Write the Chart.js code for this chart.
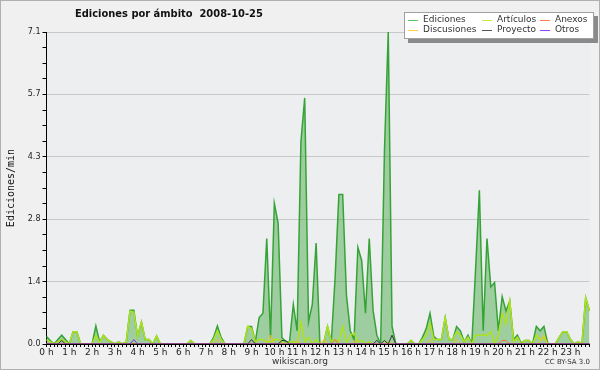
<!DOCTYPE html>
<html>
<head>
<meta charset="utf-8">
<script src="https://cdn.jsdelivr.net/npm/chart.js@4.4.1/dist/chart.umd.min.js"></script>
<style>
  html, body { margin: 0; padding: 0; background: #fff; }
</style>
</head>
<body>
<canvas id="edits-chart" width="600" height="370"></canvas>
<script>
// one value every 10 minutes, 00:00 -> 23:50
let hourLabels = ['0 h','1 h','2 h','3 h','4 h','5 h','6 h','7 h','8 h','9 h','10 h','11 h',
                  '12 h','13 h','14 h','15 h','16 h','17 h','18 h','19 h','20 h','21 h','22 h','23 h'];
let minuteSteps = ['00','10','20','30','40','50'];
let yTickValues = [0, 1.42, 2.84, 4.26, 5.68, 7.1];

let ediciones = [
    0.17,0.08,0,0.1,0.2,0.1,0,0.28,0.28,0,0,0,
    0,0.41,0.05,0.2,0.1,0.05,0,0.05,0,0.05,0.77,0.77,
    0.17,0.5,0.1,0.1,0,0.18,0,0,0,0,0,0,
    0,0,0.08,0,0,0,0,0,0.15,0.41,0.15,0,
    0,0,0,0,0,0.4,0.4,0.05,0.6,0.7,2.4,0.15,
    3.2,2.75,0.15,0.05,0.05,0.9,0.3,4.6,5.6,0.5,0.9,2.3,
    0,0.02,0.4,0.05,1.5,3.4,3.4,1.1,0.3,0.1,2.2,1.9,
    0.7,2.4,0.77,0.2,0,4.4,7.1,0.4,0,0,0,0,
    0.08,0,0,0.15,0.35,0.7,0.17,0.1,0.1,0.6,0.1,0.1,
    0.4,0.3,0.05,0.2,0,1.7,3.5,0.3,2.4,1.3,1.4,0.3,
    1.08,0.75,0.98,0.1,0.2,0.02,0.08,0.08,0,0.4,0.3,0.4,
    0.02,0,0,0.15,0.28,0.28,0.1,0,0.05,0,1.05,0.75
];
let articulos = [
    0.1,0.05,0,0.05,0.1,0.05,0,0.28,0.28,0,0,0,
    0,0.2,0.03,0.2,0.1,0.05,0,0.05,0,0.05,0.75,0.72,
    0.17,0.5,0.1,0.1,0,0.18,0,0,0,0,0,0,
    0,0,0.08,0,0,0,0,0,0.1,0.3,0.1,0,
    0,0,0,0,0,0.4,0.35,0.05,0.1,0.1,0.05,0.05,
    0.1,0.1,0.05,0,0.05,0.05,0,0.5,0.05,0.15,0,0.1,
    0,0,0.4,0.05,0.1,0.05,0.4,0.03,0.2,0.25,0.05,0.08,
    0,0.05,0,0,0,0,0.05,0,0,0,0,0,
    0.08,0,0,0.1,0.2,0.47,0.1,0.1,0.1,0.6,0.1,0.1,
    0.28,0.2,0.05,0.15,0,0.2,0.2,0.2,0.2,0.28,0,0.2,
    0.7,0.45,0.98,0.05,0.15,0,0.08,0.08,0,0.2,0.1,0.15,
    0,0,0,0.15,0.28,0.28,0.1,0,0.05,0,1.05,0.75
];
let discusiones = [
    0,0,0,0,0,0,0,0,0,0,0,0,
    0,0,0,0,0,0,0,0,0,0,0,0,
    0,0,0,0,0,0,0,0,0,0,0,0,
    0,0,0,0,0,0,0,0,0,0.1,0,0,
    0,0,0,0,0,0,0,0,0,0,0,0.2,
    0,0,0,0,0,0,0.08,0,0,0,0,0,
    0,0.1,0,0,0,0,0,0,0,0.08,0,0,
    0,0,0,0,0,0,0,0,0,0,0,0,
    0,0,0,0,0,0.1,0,0,0,0,0,0,
    0.1,0,0,0,0,0,0,0,0,0,0,0,
    0,0,0,0,0,0,0,0,0,0,0.05,0.2,
    0,0,0,0,0,0,0,0,0,0,0,0
];
let proyecto = [
    0,0,0,0,0.08,0,0,0,0,0,0,0,
    0,0,0,0,0,0,0,0,0,0,0,0,
    0,0,0,0,0,0,0,0,0,0,0,0,
    0,0,0,0,0,0,0,0,0,0,0,0,
    0,0,0,0,0,0,0.1,0,0,0,0,0,
    0,0,0.08,0.08,0,0,0,0,0,0,0,0,
    0,0,0,0,0,0,0,0,0,0,0,0,
    0,0,0,0.08,0,0.08,0,0.2,0,0,0,0,
    0,0,0,0,0,0,0,0,0,0,0,0,
    0,0,0,0,0,0,0,0,0,0,0,0,
    0,0,0,0,0,0,0,0,0,0,0,0,
    0,0,0,0,0,0,0,0,0,0,0,0
];
let anexos = [
    0,0,0,0,0,0,0,0,0,0,0,0,
    0,0,0,0,0,0,0,0,0,0,0,0,
    0,0,0,0,0,0,0,0,0,0,0,0,
    0,0,0,0,0,0,0,0,0,0,0,0,
    0,0,0,0,0,0,0,0,0,0,0,0,
    0,0,0,0,0,0,0,0,0,0,0,0,
    0,0,0,0,0.1,0,0,0,0,0,0,0,
    0,0,0,0,0,0,0,0,0,0,0,0,
    0,0,0,0,0,0,0,0,0,0,0,0,
    0,0,0,0,0,0,0,0,0,0,0,0,
    0.08,0.08,0,0,0,0,0,0,0,0,0,0,
    0,0,0,0,0,0,0,0,0,0,0,0
];
let otros = [
    0,0,0,0,0,0,0,0,0,0,0,0,
    0,0,0,0,0,0,0,0,0,0,0,0.1,
    0,0,0,0,0,0,0,0,0,0,0,0,
    0,0,0,0,0,0,0,0,0,0,0,0,
    0,0,0,0,0,0,0,0,0,0,0,0,
    0,0,0,0,0,0,0,0,0,0,0,0,
    0,0,0,0,0,0,0,0,0,0,0,0,
    0,0,0,0,0,0,0,0,0,0,0,0,
    0,0,0,0,0,0,0,0,0,0,0,0,
    0,0,0,0,0,0,0,0,0,0,0,0,
    0,0,0,0,0,0,0,0,0,0,0,0,
    0,0,0,0,0,0,0,0,0,0,0,0
];

let slots = hourLabels.flatMap(h => minuteSteps.map(m => h + ' ' + m));

// legend layout: 2 rows x 3 columns, like the original
let legendItems = [
    {label: 'Ediciones',   color: '#5fc45f', col: 0, row: 0},
    {label: 'Artículos',   color: '#c4ec3c', col: 1, row: 0},
    {label: 'Anexos',      color: '#ff7f4f', col: 2, row: 0},
    {label: 'Discusiones', color: '#ffd23c', col: 0, row: 1},
    {label: 'Proyecto',    color: '#555555', col: 1, row: 1},
    {label: 'Otros',       color: '#9a40ff', col: 2, row: 1}
];

let decorPlugin = {
    id: 'decor',
    beforeDraw: function (chart) {
        let c = chart.ctx;
        c.save();
        c.fillStyle = '#f0f0f0';
        c.fillRect(0, 0, chart.width, chart.height);
        c.strokeStyle = '#b0b0b0';
        c.lineWidth = 1;
        c.strokeRect(0.5, 0.5, chart.width - 1, chart.height - 1);
        let a = chart.chartArea;
        c.fillStyle = '#eceef0';
        c.fillRect(a.left, a.top, a.right - a.left, a.bottom - a.top);
        c.restore();
    },
    afterDraw: function (chart) {
        let c = chart.ctx;
        c.save();
        // title
        c.fillStyle = '#111';
        c.font = 'bold 11px "DejaVu Sans Condensed", "DejaVu Sans"';
        c.textBaseline = 'middle';
        c.textAlign = 'left';
        c.fillText('Ediciones por ámbito  2008-10-25', 75, 14);

        // legend box with shadow
        c.fillStyle = '#8a8a8a';
        c.fillRect(408, 16, 190, 27);
        c.fillStyle = '#ffffff';
        c.fillRect(404, 12, 190, 27);
        c.strokeStyle = '#a0a0a0';
        c.strokeRect(404.5, 12.5, 189, 26);
        let colX = [408, 482, 540];
        let rowY = [20, 30];
        c.font = '9px "DejaVu Sans"';
        c.lineWidth = 1;
        legendItems.forEach(function (it) {
            let x = colX[it.col], y = rowY[it.row];
            c.strokeStyle = it.color;
            c.beginPath();
            c.moveTo(x, y + 0.5);
            c.lineTo(x + 10, y + 0.5);
            c.stroke();
            c.fillStyle = '#333';
            c.fillText(it.label, x + 15, y);
        });

        // footer texts
        c.fillStyle = '#333';
        c.font = '9px "DejaVu Sans"';
        c.textAlign = 'center';
        c.fillText('wikiscan.org', 300, 362);
        c.font = '7px "DejaVu Sans"';
        c.textAlign = 'right';
        c.fillText('CC BY-SA 3.0', 590, 362);
        c.restore();
    }
};

window.onload = function () {
    let ctx = document.getElementById('edits-chart').getContext('2d');
    let editsChart = new Chart(ctx, {
        type: 'line',
        data: {
            labels: slots,
            datasets: [{
                label: 'Ediciones',
                data: ediciones,
                borderColor: '#36a336',
                backgroundColor: 'rgba(51,160,51,0.42)',
                borderWidth: 1.5,
                fill: 'origin',
                order: 6
            }, {
                label: 'Artículos',
                data: articulos,
                borderColor: '#aee21a',
                borderWidth: 1.5,
                fill: false,
                order: 5
            }, {
                label: 'Discusiones',
                data: discusiones,
                borderColor: '#f5c518',
                borderWidth: 1,
                fill: false,
                order: 4
            }, {
                label: 'Anexos',
                data: anexos,
                borderColor: '#ff6a30',
                borderWidth: 1,
                fill: false,
                order: 3
            }, {
                label: 'Proyecto',
                data: proyecto,
                borderColor: '#333333',
                borderWidth: 1,
                fill: false,
                order: 2
            }, {
                label: 'Otros',
                data: otros,
                borderColor: '#8a2be2',
                borderWidth: 1,
                fill: false,
                order: 1
            }]
        },
        options: {
            responsive: false,
            animation: false,
            layout: {
                padding: {top: 32, right: 10.5, left: 0, bottom: 0}
            },
            elements: {
                point: {radius: 0},
                line: {tension: 0}
            },
            plugins: {
                legend: {display: false},
                tooltip: {enabled: false},
                title: {display: false}
            },
            scales: {
                x: {
                    z: 1,
                    offset: false,
                    grid: {
                        drawOnChartArea: false,
                        tickColor: '#000',
                        tickLength: 3
                    },
                    border: {color: '#000', width: 1},
                    ticks: {
                        autoSkip: false,
                        maxRotation: 0,
                        padding: 0,
                        color: '#222',
                        font: {family: '"DejaVu Sans"', size: 9},
                        callback: function (val, i) {
                            return i % 6 === 0 ? hourLabels[i / 6] : '';
                        }
                    },
                    afterFit: function (scale) { scale.height = 26; }
                },
                y: {
                    min: 0,
                    max: 7.1,
                    afterBuildTicks: function (scale) {
                        let ticks = [];
                        for (let k = 0; k < yTickValues.length; k++) {
                            ticks.push({value: yTickValues[k]});
                            if (k < yTickValues.length - 1) {
                                let step = (yTickValues[k + 1] - yTickValues[k]) / 4;
                                for (let q = 1; q < 4; q++) ticks.push({value: yTickValues[k] + q * step});
                            }
                        }
                        scale.ticks = ticks;
                    },
                    grid: {
                        color: function (c) {
                            return (c.index % 4 === 0 && c.index > 0) ? '#c8c8c8' : 'rgba(0,0,0,0)';
                        },
                        tickColor: '#000',
                        tickLength: 4
                    },
                    border: {color: '#000', width: 1},
                    ticks: {
                        padding: 2,
                        color: '#222',
                        font: {family: '"DejaVu Sans"', size: 8},
                        callback: function (val, i) {
                            return i % 4 === 0 ? val.toFixed(1) : '';
                        }
                    },
                    title: {
                        display: true,
                        text: 'Ediciones/min',
                        color: '#111',
                        font: {family: '"DejaVu Sans Mono"', size: 10},
                        padding: {top: 5, bottom: 0}
                    },
                    afterFit: function (scale) { scale.width = 46.5; }
                }
            }
        },
        plugins: [decorPlugin]
    });
};
</script>
</body>
</html>
